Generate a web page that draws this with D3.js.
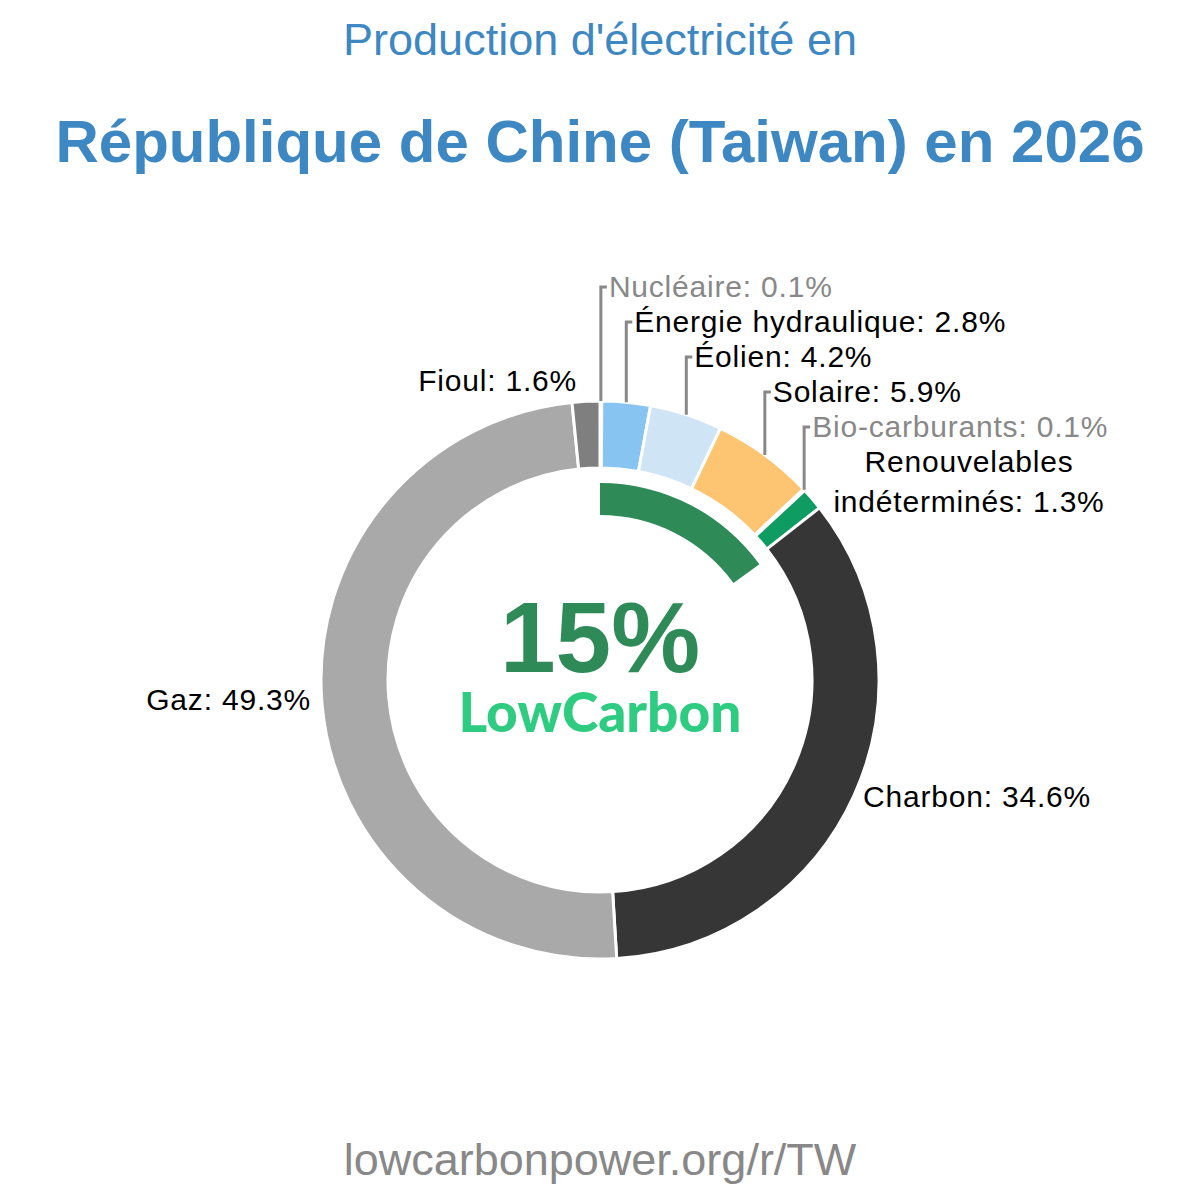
<!DOCTYPE html>
<html lang="fr">
<head>
  <meta charset="utf-8">
  <title>Production d'électricité Taiwan 2026</title>
  <script src="https://d3js.org/d3.v7.min.js"></script>
  <style>
    body { margin: 0; background: #fff; }
    text { font-family: "Liberation Sans", Arial, sans-serif; }
    .title1 { fill: #3d87c3; font-size: 45px; text-anchor: middle; }
    .title2 { fill: #3d87c3; font-size: 60px; font-weight: bold; text-anchor: middle; }
    .label { font-size: 30px; letter-spacing: 0.8px; }
    .footer { fill: #888; font-size: 45px; text-anchor: middle; }
  </style>
</head>
<body>
<script>
  // data
  const sources = ["Nucléaire", "Énergie hydraulique", "Éolien", "Solaire", "Bio-carburants",
                   "Renouvelables indéterminés", "Charbon", "Gaz", "Fioul"];
  const shares = [0.1, 2.8, 4.2, 5.9, 0.1, 1.3, 34.6, 49.3, 1.6];
  const colors = ["#7f7f7f", "#88c4f2", "#cfe5f6", "#fdc471", "#4caf50",
                  "#0e9c62", "#363636", "#a9a9a9", "#7f7f7f"];
  const lowCarbonShare = 15;

  // config
  const width = 1200, height = 1200;
  const cx = 600, cy = 680;
  const outerR = 279, innerR = 212;
  const lcOuter = 197, lcInner = 165;

  const data = sources.map((s, i) => ({ name: s, value: shares[i], color: colors[i] }));

  const svg = d3.select("body").append("svg")
    .attr("width", width).attr("height", height);

  svg.append("text").attr("class", "title1")
    .attr("x", width / 2).attr("y", 55)
    .text("Production d'électricité en");
  svg.append("text").attr("class", "title2")
    .attr("x", width / 2).attr("y", 162)
    .text("République de Chine (Taiwan) en 2026");

  const g = svg.append("g").attr("transform", `translate(${cx},${cy})`);

  const pie = d3.pie().sort(null).value(d => d.value);
  const arcs = pie(data);
  const arc = d3.arc().innerRadius(innerR).outerRadius(outerR);

  g.selectAll("path.slice").data(arcs).enter().append("path")
    .attr("class", "slice")
    .attr("d", arc)
    .attr("fill", d => d.data.color)
    .attr("stroke", "#fff").attr("stroke-width", 3);

  // low carbon inner arc
  const lcArc = d3.arc().innerRadius(lcInner).outerRadius(lcOuter)
    .startAngle(0).endAngle(2 * Math.PI * lowCarbonShare / 100);
  g.append("path").attr("d", lcArc()).attr("fill", "#2e8b57");

  g.append("text").attr("x", 0).attr("y", -8)
    .attr("text-anchor", "middle")
    .style("font-size", "100px").style("font-weight", "bold").attr("fill", "#2e8b57")
    .text(lowCarbonShare + "%");
  g.append("text").attr("x", 0).attr("y", 52)
    .attr("text-anchor", "middle")
    .style("font-family", "Lato, 'Open Sans', sans-serif")
    .style("font-size", "55px").style("font-weight", "900").attr("fill", "#2ecc80")
    .text("LowCarbon");

  // labels
  const fmt = d => d.data.name + ": " + d.data.value.toFixed(1) + "%";
  const midPoint = (d, r) => {
    const a = (d.startAngle + d.endAngle) / 2;
    return [r * Math.sin(a), -r * Math.cos(a)];
  };
  const faint = d => d.data.value < 1;

  // leader-lined labels (top right small slices)
  const leadIdx = [0, 1, 2, 3, 4];
  leadIdx.forEach((idx, k) => {
    const d = arcs[idx];
    const [x, y] = midPoint(d, outerR);
    const ly = -393 + k * 35;
    g.append("path")
      .attr("d", `M${x},${y}V${ly}H${x + 6}`)
      .attr("fill", "none").attr("stroke", "#888").attr("stroke-width", 3);
    g.append("text").attr("class", "label")
      .attr("x", x + 8).attr("y", ly + 10)
      .attr("fill", faint(d) ? "#888" : "#000")
      .text(fmt(d));
  });

  // renouvelables indéterminés (two lines)
  const ren = g.append("text").attr("class", "label")
    .attr("text-anchor", "middle").attr("fill", "#000");
  ren.append("tspan").attr("x", 369).attr("y", -208).text("Renouvelables");
  ren.append("tspan").attr("x", 369).attr("y", -168).text("indéterminés: " + arcs[5].data.value.toFixed(1) + "%");

  g.append("text").attr("class", "label").attr("x", 263).attr("y", 127)
    .attr("fill", "#000").text(fmt(arcs[6]));
  g.append("text").attr("class", "label").attr("x", -289).attr("y", 30)
    .attr("text-anchor", "end").attr("fill", "#000").text(fmt(arcs[7]));
  g.append("text").attr("class", "label").attr("x", -23).attr("y", -289)
    .attr("text-anchor", "end").attr("fill", "#000").text(fmt(arcs[8]));

  svg.append("text").attr("class", "footer")
    .attr("x", width / 2).attr("y", 1175)
    .text("lowcarbonpower.org/r/TW");
</script>
</body>
</html>
